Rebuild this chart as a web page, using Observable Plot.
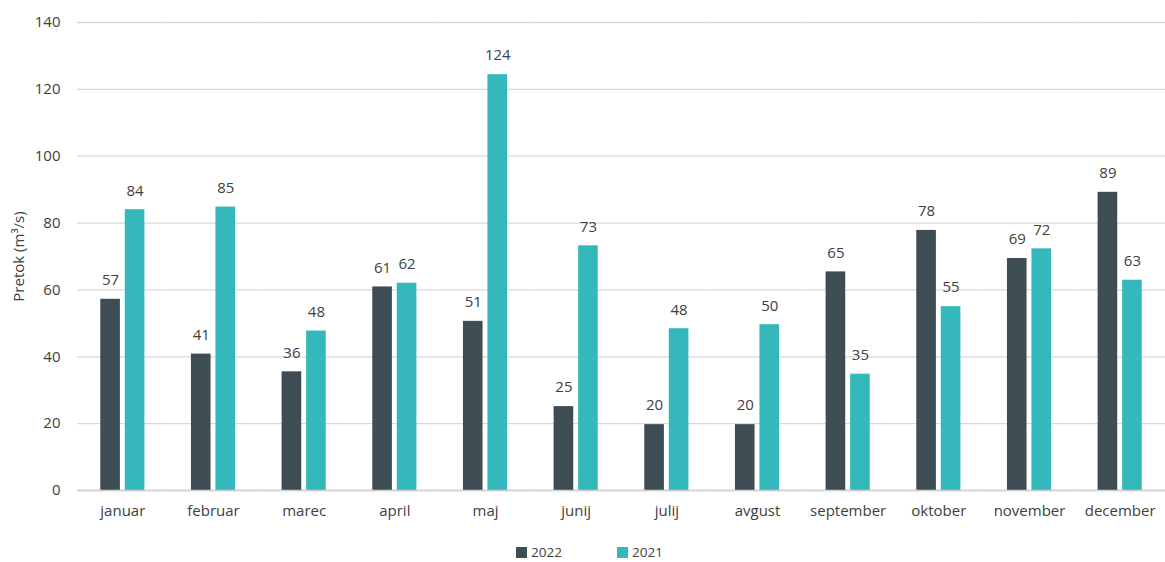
<!DOCTYPE html>
<html>
<head>
<meta charset="utf-8">
<script src="https://cdn.jsdelivr.net/npm/d3@7"></script>
<script src="https://cdn.jsdelivr.net/npm/@observablehq/plot@0.6"></script>
<style>
  html, body { margin: 0; padding: 0; background: #fff; }
  body { width: 1165px; height: 562px; overflow: hidden; font-family: "Open Sans", sans-serif; }
  #chart svg { display: block; }
  #legend { display: flex; justify-content: flex-start; align-items: center; height: 24px; margin-top: 5px; font-size: 13.5px; color: #404040; padding-left: 516px; }
  .item { display: flex; align-items: center; width: 101px; }
  .sw { width: 11px; height: 11px; margin-right: 4px; }
</style>
</head>
<body>
<div id="chart"></div>
<div id="legend"></div>
<script>
const months = ["januar","februar","marec","april","maj","junij","julij","avgust","september","oktober","november","december"];
const series = ["2022","2021"];
const values2022 = [57.2, 40.8, 35.5, 60.9, 50.6, 25.1, 19.7, 19.7, 65.4, 77.8, 69.4, 89.2];
const values2021 = [84.0, 84.8, 47.7, 62.0, 124.4, 73.2, 48.4, 49.6, 34.8, 55.0, 72.3, 62.9];
const colors = ["#3e4c54", "#35b8bb"];
const yTicks = [0, 20, 40, 60, 80, 100, 120, 140];

const data = [];
months.forEach((m, i) => {
  data.push({month: m, year: "2022", value: values2022[i]});
  data.push({month: m, year: "2021", value: values2021[i]});
});

const chart = Plot.plot({
  width: 1165,
  height: 535,
  marginLeft: 77,
  marginRight: 0,
  marginTop: 22,
  marginBottom: 45,
  style: {fontFamily: "Open Sans, sans-serif", fontSize: "15px", color: "#404040", background: "#fff"},
  fx: {domain: months, padding: 0, round: false, label: null, tickSize: 0, tickPadding: 15},
  x: {domain: series, axis: null, round: false, paddingInner: 0.2, paddingOuter: 0.95},
  y: {domain: [0, 140], ticks: yTicks, tickSize: 0, tickPadding: 17, label: "Pretok (m³/s)", labelAnchor: "center", labelArrow: "none", labelOffset: 64},
  color: {domain: series, range: colors},
  marks: [
    Plot.gridY(yTicks, {stroke: "#d9d9d9", strokeOpacity: 1, strokeWidth: 1.3}),
    Plot.barY(data, {fx: "month", x: "year", y: "value", fill: "year"}),
    Plot.ruleY([0], {stroke: "#d0d0d0", strokeWidth: 1.5}),
    Plot.text(data, {fx: "month", x: "year", y: "value", text: d => d3.format(".0f")(d.value), dy: -19, fill: "#404040", fontSize: 15})
  ]
});
document.getElementById("chart").appendChild(chart);

const legend = document.getElementById("legend");
series.forEach((s, i) => {
  const item = document.createElement("div");
  item.className = "item";
  const sw = document.createElement("div");
  sw.className = "sw";
  sw.style.background = colors[i];
  const t = document.createElement("span");
  t.textContent = s;
  item.appendChild(sw);
  item.appendChild(t);
  legend.appendChild(item);
});
</script>
</body>
</html>
